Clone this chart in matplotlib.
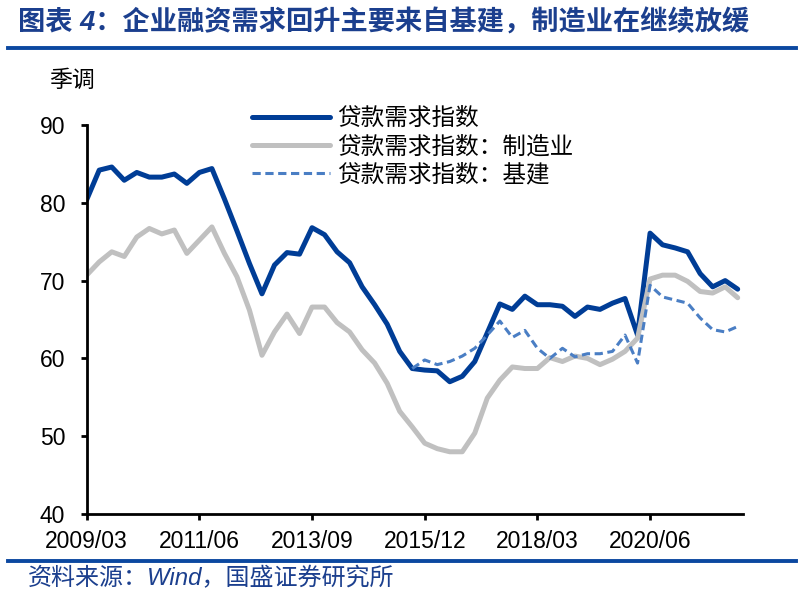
import matplotlib
matplotlib.use("Agg")
import matplotlib.pyplot as plt
from matplotlib.lines import Line2D
import numpy as np
import pandas as pd

# quarterly, 2009Q1 .. 2022Q1
quarters = pd.period_range("2009Q1", "2022Q1", freq="Q")

# 贷款需求指数 (total)
loan_demand = [80.4, 84.2, 84.6, 82.9, 83.9, 83.3, 83.3, 83.7, 82.5, 83.9,
               84.4, 80.5, 76.4, 72.2, 68.3, 72.0, 73.6, 73.4, 76.8, 75.9,
               73.7, 72.3, 69.2, 66.9, 64.4, 60.9, 58.7, 58.5, 58.4, 57.0,
               57.7, 59.6, 63.3, 67.0, 66.3, 68.0, 66.9, 66.9, 66.7, 65.4,
               66.6, 66.3, 67.1, 67.7, 63.0, 76.1, 74.6, 74.2, 73.7, 70.9,
               69.2, 70.0, 68.9]

# 贷款需求指数：制造业
manufacturing = [70.7, 72.4, 73.7, 73.1, 75.6, 76.7, 76.0, 76.5, 73.5, 75.2,
                 76.9, 73.5, 70.5, 66.2, 60.4, 63.4, 65.7, 63.2, 66.6, 66.6,
                 64.6, 63.4, 61.1, 59.4, 56.8, 53.2, 51.2, 49.1, 48.4, 48.0,
                 48.0, 50.4, 54.9, 57.2, 58.9, 58.7, 58.7, 60.1, 59.6, 60.3,
                 60.0, 59.2, 59.9, 60.9, 62.6, 70.2, 70.7, 70.7, 69.9, 68.6,
                 68.4, 69.2, 67.8]

# 贷款需求指数：基建 (series only starts in 2015Q3)
infra_quarters = pd.period_range("2015Q3", "2022Q1", freq="Q")
infrastructure = [58.7, 59.8, 59.2, 59.6, 60.3, 61.3, 63.0, 64.8, 62.7, 63.6,
                  61.3, 60.0, 61.3, 60.2, 60.6, 60.6, 60.9, 63.0, 59.4, 69.4,
                  67.9, 67.5, 67.1, 65.2, 63.7, 63.4, 64.1]

tick_labels = ["2009/03", "2011/06", "2013/09", "2015/12", "2018/03", "2020/06"]
y_ticks = [40, 50, 60, 70, 80, 90]

series_names = ["贷款需求指数", "贷款需求指数：制造业", "贷款需求指数：基建"]
title = "图表 4：企业融资需求回升主要来自基建，制造业在继续放缓"
source = "资料来源：Wind，国盛证券研究所"

plt.rcParams["font.family"] = ["Liberation Sans", "Noto Sans CJK SC"]

BLUE = "#003D96"
GRAY = "#C0C0C0"
LIGHT = "#4A7EC4"
HEAD = "#1B3F8E"

W, H = 803, 600
fig = plt.figure(figsize=(W / 100, H / 100), dpi=100)
ax = fig.add_axes([86.7 / W, 1 - 514 / H, (742.7 - 86.7) / W, (514 - 125) / H])

x_all = np.arange(len(quarters))
x_infra = np.array([quarters.get_loc(q) for q in infra_quarters])

ax.plot(x_all, loan_demand, color=BLUE, lw=3.6, solid_capstyle="round")
ax.plot(x_all, manufacturing, color=GRAY, lw=3.6, solid_capstyle="round")
ax.plot(x_infra, infrastructure, color=LIGHT, lw=2.2, dashes=(2.7, 1.5))

ax.set_ylim(40, 90)
ax.set_xlim(0, 52.4)
ax.set_yticks(y_ticks)
tick_pos = [quarters.get_loc(pd.Period(t.replace("/", "-"), freq="M").asfreq("Q")) for t in tick_labels]
ax.set_xticks(tick_pos)
ax.set_xticklabels(tick_labels)

for s in ["top", "right"]:
    ax.spines[s].set_visible(False)
for s in ["left", "bottom"]:
    ax.spines[s].set_linewidth(2.0)
    ax.spines[s].set_color("black")
ax.tick_params(axis="both", direction="out", length=4.5, width=2.0,
               labelsize=16.5, colors="black")
ax.tick_params(axis="y", pad=11)
ax.tick_params(axis="x", pad=7)

handles = [Line2D([], [], color=BLUE, lw=3.6, solid_capstyle="round"),
           Line2D([], [], color=GRAY, lw=3.6, solid_capstyle="round"),
           Line2D([], [], color=LIGHT, lw=2.2, dashes=(2.7, 1.5))]
fig.legend(handles, series_names, loc="upper left",
           bbox_to_anchor=(252 / W, 1 - 107 / H), frameon=False,
           prop={"family": ["Noto Sans CJK SC"], "size": 17},
           handlelength=3.3, handletextpad=0.3, labelspacing=0.22,
           borderpad=0, borderaxespad=0)

fig.text(49 / W, 1 - 80 / H, "季调", fontsize=16.5, va="center", ha="left",
         family=["Noto Sans CJK SC"])

# header and footer
fig.text(18 / W, 1 - 23 / H, title, fontsize=19.6, fontweight="bold",
         fontstyle="italic", color=HEAD, va="center", ha="left",
         family=["Liberation Sans", "Noto Sans CJK SC"])
fig.add_artist(Line2D([8 / W, 796 / W], [1 - 48 / H, 1 - 48 / H],
                      color="#0B48A0", lw=2.8, transform=fig.transFigure))
fig.add_artist(Line2D([8 / W, 796 / W], [1 - 561 / H, 1 - 561 / H],
                      color="#0B48A0", lw=2.8, transform=fig.transFigure))
fig.text(28 / W, 1 - 579 / H, source, fontsize=17.3, fontstyle="italic",
         color=HEAD, va="center", ha="left",
         family=["Liberation Sans", "Noto Sans CJK SC"])

fig.savefig("out.png", dpi=100)
